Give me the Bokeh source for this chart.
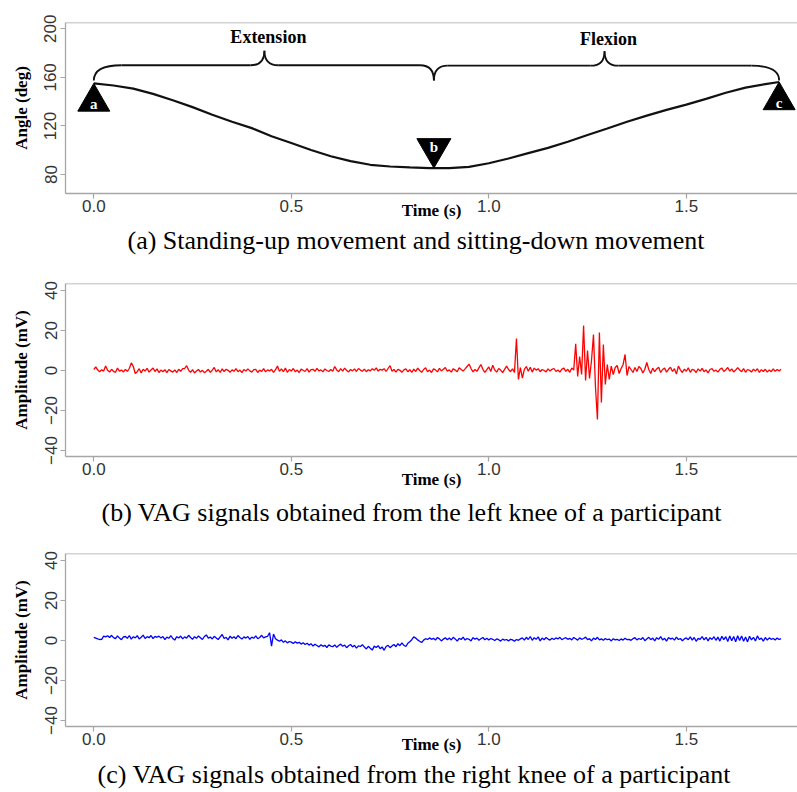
import numpy as np
from bokeh.plotting import figure
from bokeh.layouts import column
from bokeh.models import Range1d, FixedTicker, PrintfTickFormatter, Span, Title
from bokeh.embed import file_html
from bokeh.resources import INLINE
from bokeh.core.properties import value

# ---------------- data ----------------
angle_time = [0.00, 0.05, 0.10, 0.15, 0.20, 0.25, 0.30, 0.35, 0.40, 0.45, 0.50, 0.55,
              0.60, 0.65, 0.70, 0.75, 0.80, 0.85, 0.90, 0.95, 1.00, 1.05, 1.10, 1.15,
              1.20, 1.25, 1.30, 1.35, 1.40, 1.45, 1.50, 1.55, 1.60, 1.65, 1.70, 1.735]
angle_deg = [155.0, 153.3, 150.7, 146.4, 141.2, 135.5, 129.2, 123.4, 118.2, 111.5, 106.0, 100.2,
             95.0, 91.0, 88.0, 86.6, 85.8, 85.3, 85.2, 86.3, 89.3, 93.2, 97.6, 101.9,
             107.0, 112.5, 117.9, 123.4, 128.5, 133.2, 137.6, 142.3, 147.3, 151.6, 154.5, 156.2]

marker_labels = ["a", "b", "c"]
marker_time = [0.0, 0.861, 1.735]
marker_angle = [155.0, 85.3, 156.2]
marker_up = [True, False, True]

brace_labels = ["Extension", "Flexion"]
brace_start = [0.0, 0.861]
brace_tip = [0.432, 1.293]
brace_end = [0.861, 1.735]
brace_low = [157.4, 157.4]
brace_bar = [170.0, 169.6]
brace_top = [182.0, 181.6]
brace_text_angle = [193.5, 192.0]

vag_dt = 0.005
vag_left = [
    0.5, 1.8, 0.2, -0.6, 0.4, -0.3, 2.3, 0.1, -0.8, 0.6, -0.4, -0.9, 1.2, -0.3, 0.2, -0.7, 0.5, -0.4, 1.0, 3.8,
    2.0, -1.5, -0.6, 0.9, -1.2, 0.6, -0.3, 1.1, -0.8, 0.3, 1.2, -0.5, 0.8, -1.0, 0.2, -0.6, 0.4, -1.1, 0.5, -0.2,
    -0.8, 0.3, -1.0, 0.6, -0.4, 0.9, 1.0, 2.4, 0.2, -0.9, 0.4, -1.2, -0.3, 0.5, -0.8, 0.1, -1.1, -0.4, 0.6, -0.9,
    0.2, 1.5, -0.7, 0.4, -1.0, 0.8, -0.5, 0.6, 0.1, -0.9, 0.3, -0.4, 0.9, -0.6, 0.2, -1.1, 0.5, -0.3, 0.8, -0.2,
    -0.8, 0.4, 0.6, -1.0, 0.2, -0.5, 0.9, -0.7, 0.3, -0.2, 0.6, -1.0, 0.4, 2.2, -0.4, 0.8, -0.6, 1.2, -0.9, 0.5,
    -0.3, 1.0, -0.6, 0.2, -1.0, 0.7, 0.1, -0.5, 0.9, -0.8, 0.4, 0.6, -0.4, 1.1, -0.2, 0.3, -0.7, 0.8, 0.0, -0.5,
    0.5, -0.4, 2.0, 0.3, -0.6, 0.9, -0.3, 1.2, 0.1, -0.7, 0.5, -0.2, 0.8, -0.5, 1.0, 0.2, -0.4, 0.7, -0.6, 0.4,
    -0.2, 0.9, 0.1, 1.3, -0.3, 0.6, 0.2, 0.9, -0.5, 1.0, 2.4, -0.4, 0.5, -0.8, 0.6, 0.1, -0.9, 0.3, 0.8, -0.6,
    0.4, -1.0, 0.7, -0.5, 1.2, 0.0, -0.9, 0.5, 1.4, -0.6, 0.2, -1.0, 0.8, 0.3, -0.7, 1.1, -0.2, 0.6, 1.5, -0.4,
    0.3, -0.8, 0.9, 0.2, -0.6, 1.4, 0.5, -0.3, 0.8, 2.0, 3.2, 1.0, -0.7, 0.5, -0.4, 1.3, 3.0, 0.6, -0.9, 0.4,
    1.8, -0.5, 2.6, 0.3, -0.8, 1.0, 0.2, -1.1, 0.6, 2.2, 0.5, -0.6, 0.8, -1.0, 16.0, -4.5, 1.5, -3.8, 0.6, 2.0,
    -0.4, 1.6, -0.8, 1.2, 0.2, 0.9, -0.6, 0.5, 0.0, -0.7, 0.8, -0.3, 0.6, 1.0, -0.5, 0.3, -0.8, 0.7, 1.2, -0.4,
    0.6, -0.9, 1.3, 0.2, 13.3, -3.0, 7.0, -2.0, 22.5, -5.0, 10.0, -4.0, 5.0, 18.0, -8.0, -24.5, 19.0, -16.0, 13.0, -7.0,
    3.0, -4.5, 2.2, -2.0, 1.5, 2.5, -1.5, 1.0, 3.0, 8.0, -2.5, 2.0, 0.5, -1.0, 1.5, -0.5, 2.0, 1.0, -1.2, 0.6,
    4.0, 0.5, -1.5, 1.2, -0.6, 0.8, 1.6, -1.0, 0.5, 1.2, -0.8, 0.6, 1.6, -0.5, 0.9, -1.8, 2.2, 0.3, -1.0, 0.7,
    -0.4, 1.4, -0.9, 0.6, 0.2, -1.0, 0.8, -0.3, 1.1, -0.6, 0.3, -1.2, 0.5, 0.9, -0.4, 0.2, -0.8, 0.6, 1.2, -0.5,
    0.4, 1.5, -0.3, 0.8, -0.7, 0.2, 1.4, 0.3, -0.6, 1.0, -0.9, 0.5, 0.1, -0.8, 0.7, -0.3, 0.9, -1.0, 0.4, -0.5,
    0.6, -0.8, 0.3, -0.6, 0.8, -0.4, 0.5, -0.2, 0.6,
]
vag_right = [
    1.6, 1.2, 0.8, 0.5, 0.6, 2.2, 1.8, 2.4, 1.5, 2.6, 1.4, 0.9, 2.3, 1.2, 0.4, 1.8, 2.0, 1.1, 2.5, 0.7,
    1.9, 1.3, 2.4, 0.8, 1.6, 2.7, 1.0, 1.9, 1.4, 2.5, 0.9, 2.1, 1.6, 2.2, 1.2, 2.0, 0.4, 1.7, 1.1, 2.4,
    1.0, 0.2, 1.9, 1.3, 2.2, 0.8, 1.8, 1.2, 2.6, 1.5, 0.6, 1.9, 1.1, 2.3, 1.4, 0.5, 2.0, 2.8, 1.2, 1.7,
    0.8, 2.1, 1.3, 0.5, 1.8, 3.0, 1.0, 1.6, 0.3, 2.2, 1.1, 1.9, 0.9, 2.5, 1.5, 0.7, 1.8, 1.2, 2.0, 0.6,
    1.7, 1.1, 2.3, 0.9, 1.5, 2.6, 1.3, 1.8, 2.1, 3.9, -2.8, 3.2, 0.9, 0.2, -0.4, 0.3, -0.9, -0.2, -1.2, -0.5,
    -0.8, -1.5, -0.6, -1.3, -0.9, -1.8, -1.1, -2.0, -1.4, -2.3, -1.6, -2.8, -1.9, -2.5, -3.2, -2.1, -2.9, -2.4, -3.5, -2.2,
    -2.8, -3.1, -2.2, -3.4, -2.5, -1.8, -2.9, -2.3, -3.6, -2.6, -2.0, -3.2, -2.4, -3.8, -2.7, -3.0, -2.1, -3.3, -4.2, -2.9,
    -3.9, -4.8, -2.8, -3.5, -2.6, -4.1, -3.2, -4.9, -3.0, -2.4, -3.6, -2.7, -2.0, -3.1, -1.6, -2.6, -1.2, -2.4, -3.0, -1.4,
    -0.6, 0.4, 1.8, 1.2, 0.3, -0.4, -1.0, 0.2, 0.9, 0.5, 1.3, 0.6, 1.1, 0.2, 1.5, 0.8, -0.2, 0.7, 1.4, 0.4,
    1.2, 0.3, 1.6, 0.8, -0.3, 1.1, 0.5, 1.7, 0.2, 1.0, 0.6, -0.2, 1.4, 0.7, 1.2, 0.1, 0.9, 1.5, 0.4, 1.1,
    0.3, 1.0, 0.6, 0.0, 0.8, 0.4, -0.3, 0.7, 0.2, 0.5, -0.2, 0.6, 0.3, -0.4, 0.5, 0.1, 0.8, 1.3, 0.2, 1.6,
    0.5, 2.0, 0.1, 1.4, 0.6, 1.8, -0.2, 1.2, 0.4, 1.5, 0.7, 0.2, 1.1, 0.5, 1.3, 0.8, 1.6, 0.4, 1.0, 1.4,
    0.6, 1.1, 0.3, 1.5, 0.9, 0.2, 1.3, 0.6, 1.0, 1.7, 0.4, 0.9, -0.2, 1.2, 0.5, 1.6, 0.3, 0.8, 0.1, 1.0,
    0.4, 0.7, -0.2, 0.9, 0.3, 0.6, 0.0, 0.8, 0.2, 1.1, 0.4, 0.6, 0.1, 0.9, 1.4, 0.3, 1.0, 0.5, 1.5, -0.1,
    0.8, 1.6, 0.4, 1.2, -0.2, 1.4, 0.6, 1.9, 0.3, 1.1, -0.3, 1.5, 0.7, 1.2, 0.2, 1.7, 0.5, 1.0, -0.1, 0.8,
    1.3, 0.4, 1.8, 0.2, 1.5, -0.4, 1.1, 0.6, 2.0, 0.3, 1.6, -0.2, 1.4, 0.5, 1.9, 0.1, 1.7, -0.3, 2.1, 0.4,
    1.9, -0.5, 2.3, -0.1, 2.0, -0.6, 2.4, 0.0, 2.2, -0.4, 1.8, -0.7, 2.1, 0.3, 1.6, -0.2, 2.3, 0.5, 1.2, -0.3,
    1.5, 0.2, 1.3, 0.6, 1.0, 0.3, 1.2, 0.5, 0.9,
]
vag_time = [round(i * vag_dt, 3) for i in range(len(vag_left))]

x_ticks = [0.0, 0.5, 1.0, 1.5]
angle_ticks = [80, 120, 160, 200]
amp_ticks = [-40, -20, 0, 20, 40]
captions = ["(a) Standing-up movement and sitting-down movement",
            "(b) VAG signals obtained from the left knee of a participant",
            "(c) VAG signals obtained from the right knee of a participant"]

# ---------------- styling ----------------
GRAY = "#a6a6a6"
W = 797
X_RANGE = (-0.0716, 1.7815)


def make_fig(height, top, bottom, yr, yticks, ylabel, caption, xlab_standoff, cap_standoff, cap_offset):
    p = figure(width=W, height=height, x_range=Range1d(*X_RANGE), y_range=Range1d(*yr),
               output_backend="svg", toolbar_location=None,
               min_border_left=65, min_border_right=0, min_border_top=top,
               min_border_bottom=bottom)
    p.outline_line_color = None
    p.background_fill_color = "white"
    p.border_fill_color = "white"
    p.xgrid.visible = False
    p.ygrid.visible = False
    p.add_layout(Span(location=yr[1], dimension="width", line_color=GRAY, line_width=1.3))
    for ax in (p.xaxis[0], p.yaxis[0]):
        ax.axis_line_color = GRAY
        ax.axis_line_width = 1.3
        ax.major_tick_line_color = GRAY
        ax.major_tick_line_width = 1.2
        ax.major_tick_in = 0
        ax.major_tick_out = 5
        ax.minor_tick_line_color = None
        ax.major_label_text_font = "Liberation Sans"
        ax.major_label_text_font_size = "17px"
        ax.major_label_text_color = "#333333"
        ax.axis_label_text_font = "Liberation Serif"
        ax.axis_label_text_font_style = "bold"
        ax.axis_label_text_font_size = "17px"
        ax.axis_label_text_color = "black"
    p.xaxis.ticker = FixedTicker(ticks=x_ticks)
    p.xaxis.formatter = PrintfTickFormatter(format="%.1f")
    p.xaxis.major_label_standoff = 1
    p.xaxis.axis_label = "Time (s)"
    p.xaxis.axis_label_standoff = xlab_standoff
    p.yaxis.ticker = FixedTicker(ticks=yticks)
    p.yaxis.major_label_orientation = "vertical"
    p.yaxis.major_label_standoff = 4
    p.yaxis.axis_label = ylabel
    p.yaxis.axis_label_standoff = 11
    p.add_layout(Title(text=caption, align="left", text_font="Liberation Serif",
                       text_font_size="26px", text_font_style="normal", text_color="black",
                       standoff=cap_standoff, offset=cap_offset), "below")
    return p


# ---- panel (a) ----
HA, TOPA, FRAME_A = 265, 22, 171
pa = make_fig(HA, TOPA, HA - TOPA - FRAME_A, (64.35, 205.2), angle_ticks, "Angle (deg)",
              captions[0], -14, 3, 62)
px_per_deg = FRAME_A / (205.2 - 64.35)

pa.line(angle_time, angle_deg, line_color="#111111", line_width=2.2)

# braces
for i in range(len(brace_labels)):
    s, m, e = brace_start[i], brace_tip[i], brace_end[i]
    lo, bar, tp = brace_low[i], brace_bar[i], brace_top[i]
    ws = 0.07 if i == 0 else 0.035
    we = 0.035 if i == 0 else 0.07
    wc = 0.035
    pa.quadratic(x0=[s, m - wc, m, e - we], y0=[lo, bar, tp, bar],
                 x1=[s + ws, m, m + wc, e], y1=[bar, tp, bar, lo],
                 cx=[s, m, m, e], cy=[bar, bar, bar, bar],
                 line_color="#111111", line_width=1.8)
    pa.segment(x0=[s + ws, m + wc], y0=[bar, bar], x1=[m - wc, e - we], y1=[bar, bar],
               line_color="#111111", line_width=1.8)
    pa.text(x=[m + 0.01], y=[brace_text_angle[i]], text=[brace_labels[i]],
            text_font=value("Liberation Serif"), text_font_style="bold",
            text_font_size="18px", text_align="center", text_baseline="middle",
            text_color="black")

# triangle markers
for lab, t, a, up in zip(marker_labels, marker_time, marker_angle, marker_up):
    size = 32 if up else 34
    off = 0.577 * size / px_per_deg
    cy = a - off if up else a + off
    pa.scatter([t], [cy], marker="triangle" if up else "inverted_triangle", size=size,
               fill_color="black", line_color="black")
    ty = a - 21 / px_per_deg if up else a + 21 / px_per_deg
    pa.text(x=[t], y=[ty], text=[lab], text_font=value("Liberation Serif"),
            text_font_style="bold", text_font_size="15px", text_align="center",
            text_baseline="middle", text_color="white")

# ---- panel (b) ----
HB, TOPB, FRAME_B = 268, 18, 173
pb = make_fig(HB, TOPB, HB - TOPB - FRAME_B, (-43.0, 43.5), amp_ticks, "Amplitude (mV)",
              captions[1], -8, 9, 36)
pb.line(vag_time, vag_left, line_color="#ff0000", line_width=1.3)

# ---- panel (c) ----
HC, TOPC, FRAME_C = 259, 20, 173
pc = make_fig(HC, TOPC, HC - TOPC - FRAME_C, (-43.0, 43.5), amp_ticks, "Amplitude (mV)",
              captions[2], -13, 3, 32)
pc.line(vag_time, vag_right, line_color="#0000ff", line_width=1.3)

layout = column(pa, pb, pc, spacing=0)
open("out.html", "w").write(file_html(layout, INLINE))
